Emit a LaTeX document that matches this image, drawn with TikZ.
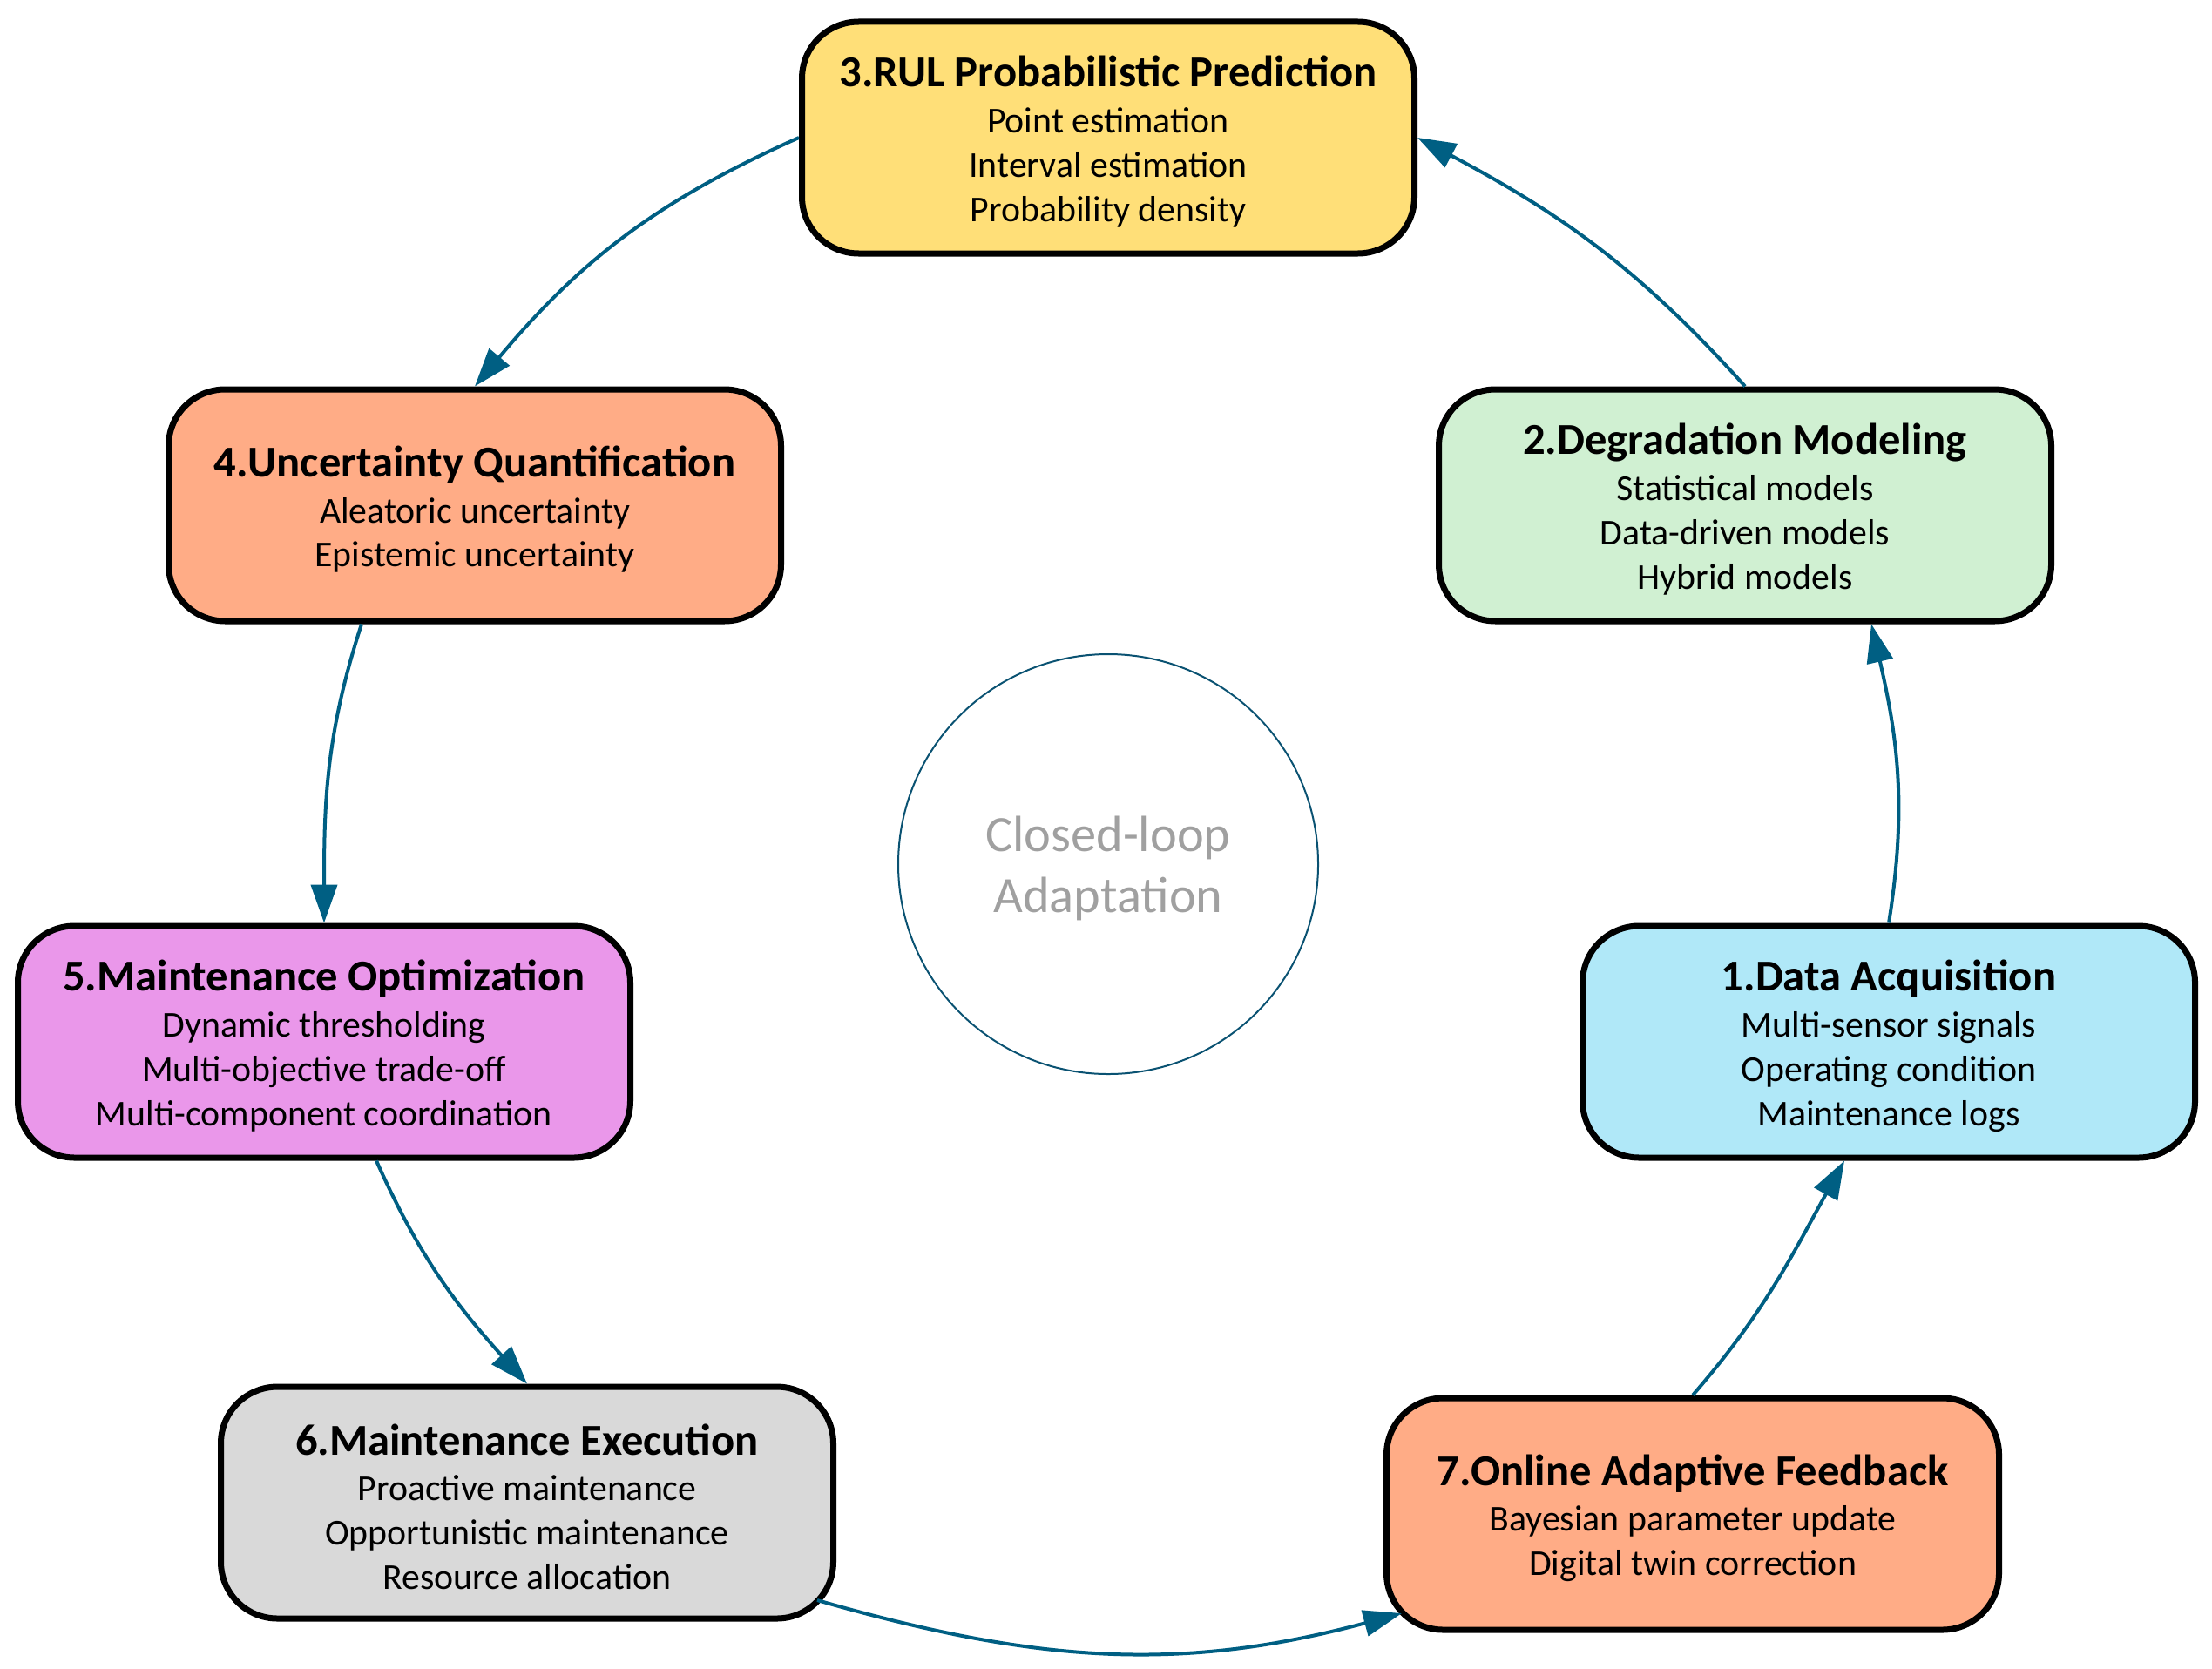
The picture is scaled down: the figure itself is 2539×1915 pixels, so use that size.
\documentclass[tikz,border=0pt]{standalone}
\usepackage{fontspec}
\setmainfont{Carlito}
\usetikzlibrary{arrows.meta,calc}
\definecolor{cone}{HTML}{B0E8F8}
\definecolor{ctwo}{HTML}{D0F0D2}
\definecolor{cthree}{HTML}{FFDF78}
\definecolor{cfour}{HTML}{FFAC86}
\definecolor{cfive}{HTML}{EA97EA}
\definecolor{csix}{HTML}{D9D9D9}
\definecolor{cseven}{HTML}{FFAC86}
\definecolor{arrowc}{HTML}{005F83}
\definecolor{circc}{HTML}{0A5272}
\definecolor{graytext}{HTML}{A0A0A0}
\newcommand{\ttl}[1]{{\fontsize{14.4}{17}\selectfont\bfseries\rule{0pt}{12.8pt}#1}\\[0.5pt]}
\begin{document}
\begin{tikzpicture}[x=0.1mm,y=0.1mm,
  box/.style={draw=black, line width=0.7mm, rounded corners=6.5mm,
    minimum width=70.3mm, minimum height=26.6mm, align=center, inner sep=0pt,
    font=\fontsize{11.9}{14.5}\selectfont},
  flow/.style={draw=arrowc, line width=0.4mm, -{Triangle[length=4.4mm,width=3mm]}}]
\useasboundingbox (0,0) rectangle (2539,-1915);
\node[box, fill=cthree] (n3) at (1272,-158) {\ttl{3.RUL Probabilistic Prediction}Point estimation\\ Interval estimation\\ Probability density};
\node[box, fill=ctwo] (n2) at (2003,-580) {\ttl{2.Degradation Modeling}Statistical models\\ Data-driven models\\ Hybrid models};
\node[box, fill=cfour] (n4) at (545,-580) {\ttl{4.Uncertainty Quantification}Aleatoric uncertainty\\ Epistemic uncertainty};
\node[box, fill=cfive] (n5) at (372,-1196) {\ttl{5.Maintenance Optimization}Dynamic thresholding\\ Multi-objective trade-off\\ Multi-component coordination};
\node[box, fill=cone] (n1) at (2168,-1196) {\ttl{1.Data Acquisition}Multi-sensor signals\\ Operating condition\\ Maintenance logs};
\node[box, fill=csix] (n6) at (605,-1725) {\ttl{6.Maintenance Execution}Proactive maintenance\\ Opportunistic maintenance\\ Resource allocation};
\node[box, fill=cseven] (n7) at (1943,-1738) {\ttl{7.Online Adaptive Feedback}Bayesian parameter update\\ Digital twin correction};
\node[circle, draw=circc, line width=0.2mm, minimum size=48.2mm, inner sep=0pt,
  text=graytext, align=center, font=\fontsize{16.6}{19.9}\selectfont] (loop) at (1272,-992) {\rule{0pt}{14.3pt}Closed-loop\\Adaptation};
\draw[flow] (n1.north) to[out=81,in=-77] ($(n2.south)+(145,0)$);
\draw[flow] (n2.north) to[out=132,in=-28] (n3.east);
\draw[flow] (n3.west) to[out=204,in=50] (n4.north);
\draw[flow] ($(n4.south)+(-130,0)$) to[out=252,in=90] (n5.north);
\draw[flow] ($(n5.south)+(60,0)$) to[out=294,in=132] (n6.north);
\draw[flow] ($(n6.center)+(333,-112)$) to[out=-16,in=195] ($(n7.center)+(-334,-114)$);
\draw[flow] (n7.north) to[out=49,in=-119] ($(n1.south)+(-51,0)$);
\end{tikzpicture}
\end{document}
